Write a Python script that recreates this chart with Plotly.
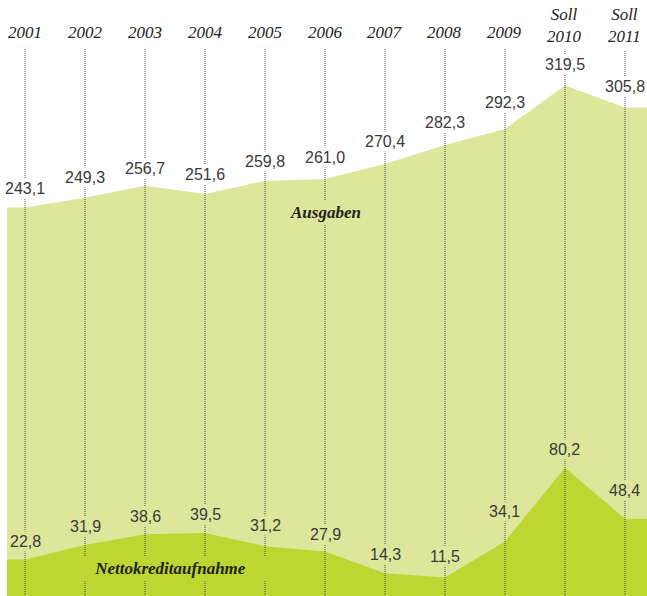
import plotly.graph_objects as go

years = [2001, 2002, 2003, 2004, 2005, 2006, 2007, 2008, 2009, 2010, 2011]
year_labels = ["2001", "2002", "2003", "2004", "2005", "2006", "2007", "2008", "2009",
               "Soll<br>2010", "Soll<br>2011"]
ausgaben = [243.1, 249.3, 256.7, 251.6, 259.8, 261.0, 270.4, 282.3, 292.3, 319.5, 305.8]
nettokredit = [22.8, 31.9, 38.6, 39.5, 31.2, 27.9, 14.3, 11.5, 34.1, 80.2, 48.4]

# styling / layout (not data)
LIGHT = "#dde69b"
DARK = "#bdd631"
X_RANGE = [2000.583, 2011.367]
Y_RANGE = [0, 373]
aus_label_shift = [19, 20, 17, 19, 19, 21, 22, 22, 26, 21, 21]
net_label_shift = [18, 19, 18, 18, 21, 17, 19, 21, 30, 18, 28]

def ext_x(xs):
    return [xs[0] - 0.3] + list(xs) + [X_RANGE[1]]

def ext_y(ys):
    return [ys[0]] + list(ys) + [ys[-1]]

def fmt(v):
    return f"{v:.1f}".replace(".", ",")

fig = go.Figure()
fig.add_trace(go.Scatter(x=ext_x(years), y=ext_y(ausgaben), mode="lines",
                         line=dict(width=0, color=LIGHT), fill="tozeroy",
                         fillcolor=LIGHT, hoverinfo="skip", showlegend=False))
fig.add_trace(go.Scatter(x=ext_x(years), y=ext_y(nettokredit), mode="lines",
                         line=dict(width=0, color=DARK), fill="tozeroy",
                         fillcolor=DARK, hoverinfo="skip", showlegend=False))

shapes = []
for i, yr in enumerate(years):
    top = 0.919 if i < 9 else 0.916
    shapes.append(dict(type="line", xref="x", yref="paper", x0=yr, x1=yr, y0=0, y1=top,
                       line=dict(color="#4a4a4a", width=1, dash="1px,1px"), layer="above"))

annotations = []
serif = "Liberation Serif"
sans = "Liberation Sans"
for i, yr in enumerate(years):
    if i < 9:
        annotations.append(dict(x=yr, xref="x", y=1 - 32 / 596, yref="paper",
                                text=f"<i>{year_labels[i]}</i>", showarrow=False,
                                yanchor="middle", xanchor="center",
                                font=dict(family=serif, size=17, color="#222")))
    else:
        annotations.append(dict(x=yr, xref="x", y=1 - 25.5 / 596, yref="paper",
                                text=f"<i>{year_labels[i]}</i>", showarrow=False,
                                yanchor="middle", xanchor="center",
                                font=dict(family=serif, size=17, color="#222")))
    annotations.append(dict(x=yr, xref="x", y=ausgaben[i], yref="y", text=fmt(ausgaben[i]),
                            showarrow=False, yanchor="middle", yshift=aus_label_shift[i],
                            bgcolor="white", borderpad=1,
                            font=dict(family=sans, size=16, color="#3a3a3a")))
    annotations.append(dict(x=yr, xref="x", y=nettokredit[i], yref="y", text=fmt(nettokredit[i]),
                            showarrow=False, yanchor="middle", yshift=net_label_shift[i],
                            bgcolor=LIGHT, borderpad=1,
                            font=dict(family=sans, size=16, color="#3a3a3a")))

annotations.append(dict(x=2006, xref="x", y=1 - 212 / 596, yref="paper",
                        text="<b><i>Ausgaben</i></b>", showarrow=False, yanchor="middle",
                        bgcolor=LIGHT, borderpad=2,
                        font=dict(family=serif, size=17, color="#222")))
annotations.append(dict(x=2001 + (170 - 25) / 60, xref="x", y=1 - 568 / 596, yref="paper",
                        text="<b><i>Nettokreditaufnahme</i></b>", showarrow=False,
                        yanchor="middle", bgcolor=DARK, borderpad=2, width=200,
                        font=dict(family=serif, size=17, color="#222")))

fig.update_layout(
    width=647, height=596,
    margin=dict(l=0, r=0, t=0, b=0),
    paper_bgcolor="white", plot_bgcolor="white",
    xaxis=dict(range=X_RANGE, visible=False, fixedrange=True),
    yaxis=dict(range=Y_RANGE, visible=False, fixedrange=True),
    shapes=shapes, annotations=annotations,
)

fig.write_html("out.html", config={"displayModeBar": False},
               post_script="document.body.style.margin='0';document.body.style.overflow='hidden';")
